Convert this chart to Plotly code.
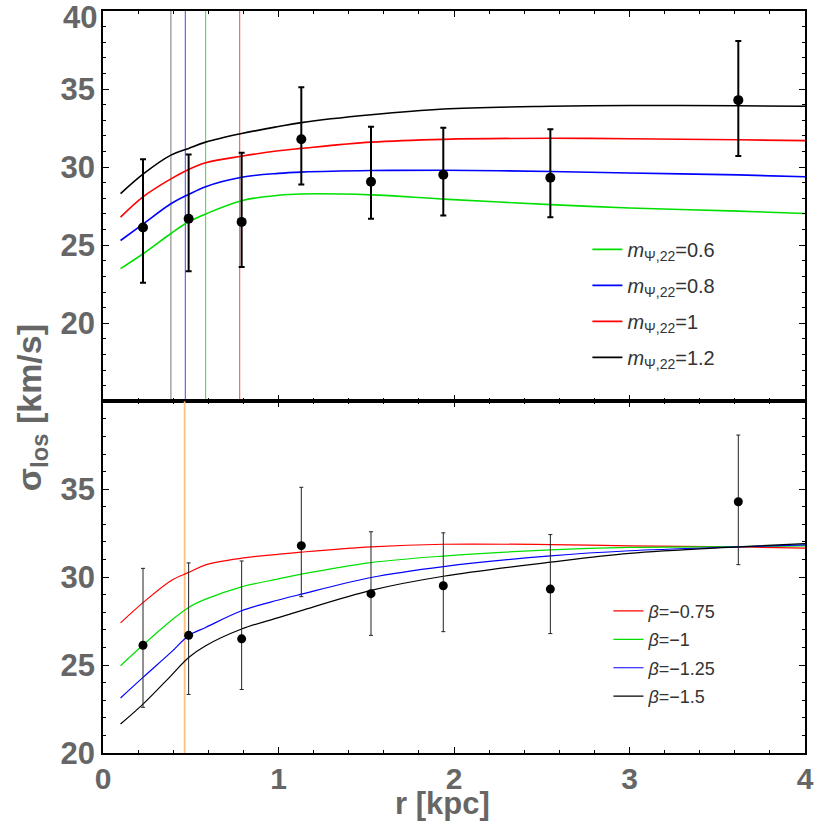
import plotly.graph_objects as go
from plotly.subplots import make_subplots

# ---------------- data ----------------
r_obs = [0.228, 0.488, 0.79, 1.13, 1.527, 1.939, 2.549, 3.62]
sigma_obs = [26.13, 26.69, 26.49, 31.79, 29.06, 29.51, 29.32, 34.29]
err_plus = [4.37, 4.12, 4.43, 3.32, 3.52, 3.01, 3.10, 3.79]
err_minus = [3.53, 3.36, 2.88, 2.90, 2.37, 2.61, 2.53, 3.58]

r_model = [0.1, 0.228, 0.387, 0.488, 0.585, 0.79, 1.0, 1.13, 1.527, 1.94, 2.55, 3.0, 3.62, 4.0]

# top panel: boson mass m_{psi,22}
m_labels = ["0.6", "0.8", "1", "1.2"]
m_colors = ["#00e000", "#0000ff", "#ff0000", "#000000"]
m_curves = [
    [23.5, 24.45, 25.75, 26.5, 27.0, 27.85, 28.2, 28.28, 28.22, 27.95, 27.6, 27.38, 27.18, 27.03],
    [25.3, 26.35, 27.65, 28.25, 28.75, 29.35, 29.6, 29.68, 29.78, 29.8, 29.72, 29.62, 29.5, 29.38],
    [26.8, 28.1, 29.25, 29.85, 30.28, 30.7, 31.05, 31.2, 31.6, 31.78, 31.85, 31.82, 31.75, 31.7],
    [28.3, 29.55, 30.77, 31.2, 31.6, 32.15, 32.6, 32.85, 33.35, 33.72, 33.9, 33.95, 33.93, 33.9],
]
m_core_r = [0.585, 0.469, 0.779, 0.387]   # vertical lines (same order as m_labels)
m_core_colors = ["#33dd33", "#4444ff", "#ff4444", "#777777"]

# bottom panel: anisotropy beta
beta_labels = ["−0.75", "−1", "−1.25", "−1.5"]
beta_colors = ["#ff0000", "#00e000", "#0000ff", "#000000"]
beta_curves = [
    [27.4, 28.55, 29.8, 30.27, 30.7, 31.08, 31.3, 31.42, 31.72, 31.87, 31.85, 31.78, 31.72, 31.65],
    [24.96, 26.14, 27.52, 28.28, 28.75, 29.45, 29.9, 30.17, 30.83, 31.2, 31.55, 31.69, 31.74, 31.78],
    [23.13, 24.3, 25.72, 26.67, 27.14, 28.09, 28.7, 29.03, 29.98, 30.6, 31.21, 31.5, 31.72, 31.84],
    [21.65, 22.78, 24.39, 25.43, 26.1, 27.05, 27.7, 28.1, 29.25, 30.05, 30.85, 31.35, 31.72, 31.91],
]
beta_core_r = [0.465]
beta_core_colors = ["#ffbf80"]

top_range = [15, 40]
bot_range = [20, 40]
top_ticks = [20, 25, 30, 35, 40]
top_ticktext = ["20", "25", "30", "35", ""]   # the top "40" is placed as a label below
top_edge_label = "40"
bot_ticks = [20, 25, 30, 35]

# ---------------- figure ----------------
fig = make_subplots(rows=2, cols=1, shared_xaxes=True, vertical_spacing=0,
                    row_heights=[0.526, 0.474])

for xr, c in zip(m_core_r, m_core_colors):
    fig.add_trace(go.Scatter(x=[xr, xr], y=top_range, mode="lines",
                             line=dict(color=c, width=1), showlegend=False,
                             hoverinfo="skip"), row=1, col=1)
for lab, c, ys in zip(m_labels, m_colors, m_curves):
    fig.add_trace(go.Scatter(x=r_model, y=ys, mode="lines", line=dict(color=c, width=1.6, shape="spline"),
                             name="<i>m</i><sub>Ψ,22</sub>=" + lab, legend="legend",
                             legendgroup="m" + lab), row=1, col=1)
fig.add_trace(go.Scatter(x=r_obs, y=sigma_obs, mode="markers",
                         marker=dict(color="black", size=10),
                         error_y=dict(type="data", symmetric=False, array=err_plus,
                                      arrayminus=err_minus, color="black", thickness=2, width=3),
                         showlegend=False), row=1, col=1)

for xr, c in zip(beta_core_r, beta_core_colors):
    fig.add_trace(go.Scatter(x=[xr, xr], y=bot_range, mode="lines",
                             line=dict(color=c, width=1.8), showlegend=False,
                             hoverinfo="skip"), row=2, col=1)
for lab, c, ys in zip(beta_labels, beta_colors, beta_curves):
    fig.add_trace(go.Scatter(x=r_model, y=ys, mode="lines", line=dict(color=c, width=1.2, shape="spline"),
                             name="<i>β</i>=" + lab, legend="legend2",
                             legendgroup="b" + lab), row=2, col=1)
fig.add_trace(go.Scatter(x=r_obs, y=sigma_obs, mode="markers",
                         marker=dict(color="black", size=9),
                         error_y=dict(type="data", symmetric=False, array=err_plus,
                                      arrayminus=err_minus, color="#222222", thickness=1, width=2),
                         showlegend=False), row=2, col=1)

gray = "#666666"
fam = "Liberation Sans, Arial, sans-serif"
tickfont = dict(family=fam, size=31, color=gray, weight="bold")
axis_common = dict(showline=True, linecolor="black", linewidth=1.5, mirror="ticks",
                   ticks="inside", ticklen=6, tickcolor="black", showgrid=False, zeroline=False,
                   tickfont=tickfont, automargin=False, ticklabeloverflow="allow")

fig.update_xaxes(range=[0, 4], dtick=1, tick0=0,
                 minor=dict(dtick=0.2, ticks="inside", ticklen=3, tickcolor="black"),
                 **axis_common)
fig.update_xaxes(showticklabels=False, linewidth=2, row=1, col=1)
fig.update_xaxes(tickfont=dict(family=fam, size=30, color=gray, weight="bold"),
                 ticklabelstandoff=-2, row=2, col=1)
fig.update_yaxes(minor=dict(dtick=1, ticks="inside", ticklen=3, tickcolor="black"), **axis_common)
fig.update_yaxes(range=top_range, tickvals=top_ticks, ticktext=top_ticktext, row=1, col=1)
fig.update_yaxes(range=bot_range, tickvals=bot_ticks, row=2, col=1)

fig.update_layout(
    width=822, height=822,
    margin=dict(l=103, r=17, t=11, b=69),
    paper_bgcolor="white", plot_bgcolor="white",
    font=dict(family=fam, color="#333333"),
    legend=dict(x=0.69, y=0.705, xanchor="left", yanchor="top", bgcolor="rgba(0,0,0,0)",
                font=dict(size=20, color="#333333"), itemwidth=30, tracegroupgap=7),
    legend2=dict(x=0.72, y=0.216, xanchor="left", yanchor="top", bgcolor="rgba(0,0,0,0)",
                 font=dict(size=18, color="#333333"), itemwidth=30, tracegroupgap=2),
    annotations=[
        dict(text="<b>" + top_edge_label + "</b>", xref="paper", yref="y", x=0, y=top_range[1],
             xanchor="right", yanchor="top", xshift=-4, yshift=13, showarrow=False,
             font=dict(size=31, color=gray, family=fam)),
        dict(text="<b>σ<sub>los</sub> [km/s]</b>", textangle=-90, xref="paper", yref="paper",
             x=-0.1026, y=0.466, xanchor="center", yanchor="middle", showarrow=False,
             font=dict(size=34, color=gray, family=fam)),
        dict(text="<b>r [kpc]</b>", xref="paper", yref="paper", x=0.484, y=-0.068,
             xanchor="center", yanchor="middle", showarrow=False,
             font=dict(size=31, color=gray, family=fam)),
    ],
)

fig.write_html("out.html", config={"displayModeBar": False},
               post_script="document.body.style.margin='0';")
